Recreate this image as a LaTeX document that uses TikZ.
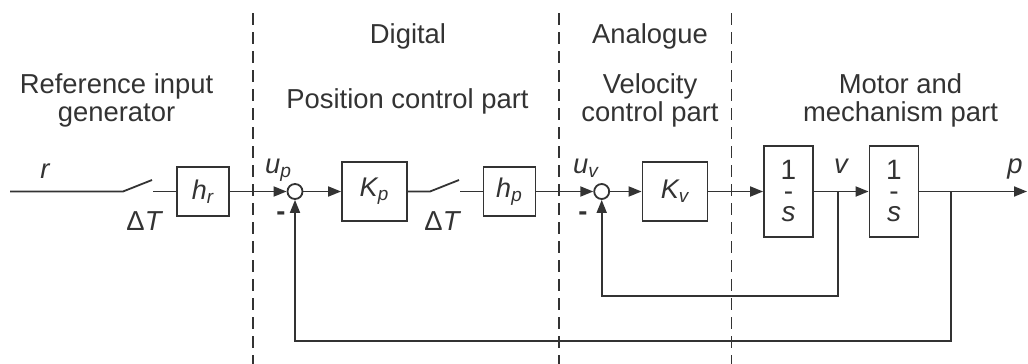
\documentclass[tikz,border=0pt]{standalone}
\usepackage{fontspec}
\setmainfont{Liberation Sans}
\usetikzlibrary{arrows.meta}
\definecolor{inkgray}{RGB}{51,51,51}

\begin{document}
\begin{tikzpicture}[x=0.5pt,y=-0.5pt,
    every node/.style={text=inkgray},
    sig/.style={draw=inkgray, line width=0.9pt},
    arr/.style={sig, -{Triangle[length=6.5pt,width=5pt]}},
    divider/.style={draw=inkgray, line width=0.75pt, dash pattern=on 6pt off 3.5pt},
    part/.style={anchor=base, font=\fontsize{13.7}{16}\selectfont},
    var/.style={anchor=base, font=\fontsize{13.7}{16}\selectfont\itshape},
    hold/.style={draw=inkgray, line width=0.9pt, minimum width=26pt, minimum height=24.5pt, inner sep=0pt, font=\fontsize{13.5}{15}\selectfont\itshape},
    gain/.style={hold, minimum width=32.5pt, minimum height=29.5pt},
    integ/.style={draw=inkgray, line width=0.9pt, minimum width=24.5pt, minimum height=45.5pt, inner sep=0pt, align=center, font=\fontsize{14}{10.5}\selectfont},
    sumpt/.style={circle, draw=inkgray, line width=0.9pt, minimum size=7.5pt, inner sep=0pt}]
  \useasboundingbox (0,0) rectangle (1028,364);

  % section dividers
  \draw[divider] (253,13) -- (253,364);
  \draw[divider] (559,13) -- (559,364);
  \draw[divider] (731.5,13) -- (731.5,364);

  % section titles
  \node[part] (dig) at (408,43) {Digital};
  \node[part] (ana) at (650,43) {Analogue};
  \node[part] (ref1) at (116.5,93) {Reference input};
  \node[part] (ref2) at (116.5,121) {generator};
  \node[part] (pos) at (407.5,108) {Position control part};
  \node[part] (vel1) at (650,93) {Velocity};
  \node[part] (vel2) at (650,121) {control part};
  \node[part] (mot1) at (900.5,93) {Motor and};
  \node[part] (mot2) at (900.5,121) {mechanism part};

  % blocks
  \node[hold] (hr) at (203,191.5) {h\textsubscript{r}};
  \node[sumpt] (s1) at (295,191.5) {};
  \node[gain] (kp) at (374.5,191.5) {K\textsubscript{p}};
  \node[hold] (hp) at (509.5,191.5) {h\textsubscript{p}};
  \node[sumpt] (s2) at (601.7,191.5) {};
  \node[gain] (kv) at (675,191.5) {K\textsubscript{v}};
  \node[integ] (i1) at (788.5,191.5) {1\\-\\\textit{s}};
  \node[integ] (i2) at (894,191.5) {1\\-\\\textit{s}};

  % switches and branch points
  \coordinate (in) at (10,191.5);
  \coordinate (sw1) at (123,191.5);
  \coordinate (sw1e) at (152,180);
  \coordinate (sw1o) at (153,191.5);
  \coordinate (sw2) at (430,191.5);
  \coordinate (sw2e) at (459,180);
  \coordinate (sw2o) at (460,191.5);
  \coordinate (vb) at (838,191.5);
  \coordinate (pb) at (951,191.5);
  \coordinate (out) at (1027,191.5);

  % signals
  \node[var] (r) at (45,178) {r};
  \node[var] (dt1) at (144,230) {{\upshape Δ}T};
  \node[var] (dt2) at (442,230) {{\upshape Δ}T};
  \node[var, anchor=base west] (up) at (258,173) {u\textsubscript{p}};
  \node[var, anchor=base west] (uv) at (566,173) {u\textsubscript{v}};
  \node[var] (v) at (841,173) {v};
  \node[var] (p) at (1015,173) {p};
  \node[part, font=\fontsize{13.7}{16}\selectfont\bfseries] (m1) at (281,220) {-};
  \node[part, font=\fontsize{13.7}{16}\selectfont\bfseries] (m2) at (583,220) {-};

  % connections
  \draw[sig] (in) -- (sw1) -- (sw1e);
  \draw[sig] (sw1o) -- (hr);
  \draw[arr] (hr) -- (s1);
  \draw[arr] (s1) -- (kp);
  \draw[sig] (kp) -- (sw2) -- (sw2e);
  \draw[sig] (sw2o) -- (hp);
  \draw[arr] (hp) -- (s2);
  \draw[arr] (s2) -- (kv);
  \draw[arr] (kv) -- (i1);
  \draw[arr] (i1) -- (i2);
  \draw[arr] (i2) -- (out);
  \draw[arr] (vb) -- ++(0,104.5) -| (s2);
  \draw[arr] (pb) -- ++(0,149.5) -| (s1);
\end{tikzpicture}
\end{document}
